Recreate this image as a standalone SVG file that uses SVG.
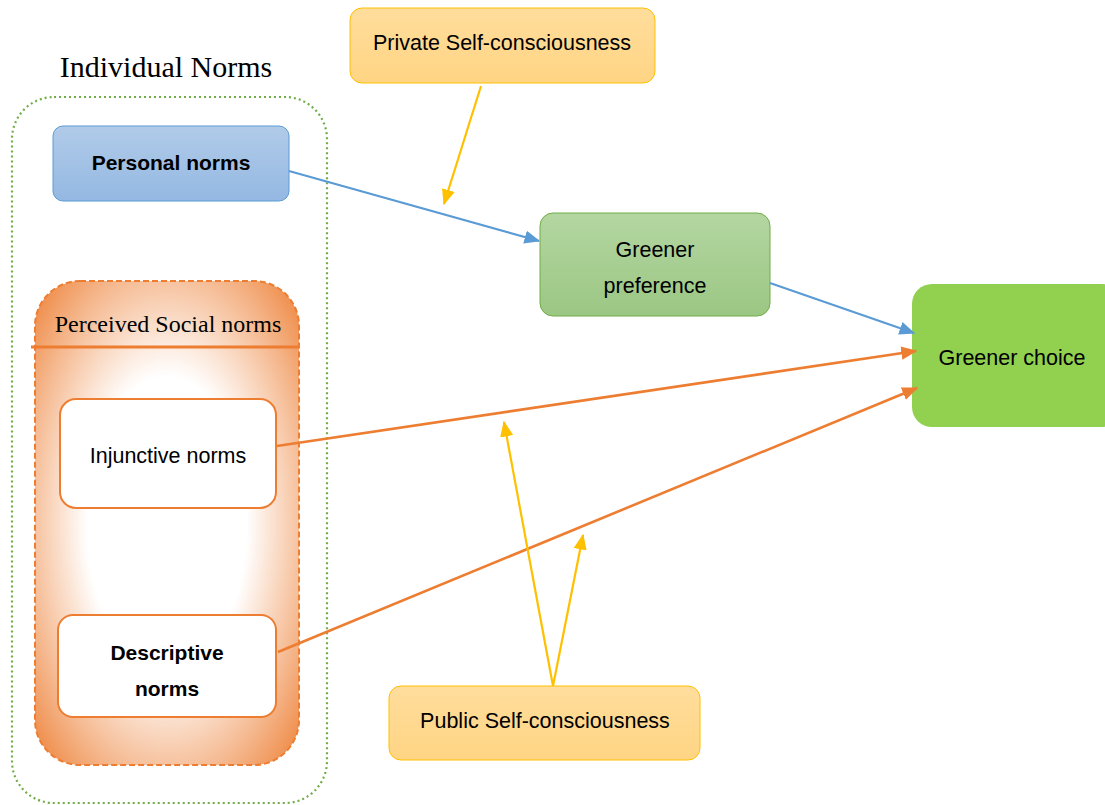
<svg xmlns="http://www.w3.org/2000/svg" width="1105" height="805" viewBox="0 0 1105 805">
  <defs>
    <linearGradient id="gBlue" x1="0" y1="0" x2="0" y2="1">
      <stop offset="0" stop-color="#b1cbe9"/>
      <stop offset="1" stop-color="#94b8e2"/>
    </linearGradient>
    <linearGradient id="gYellow" x1="0" y1="0" x2="0" y2="1">
      <stop offset="0" stop-color="#ffdd9c"/>
      <stop offset="1" stop-color="#ffd584"/>
    </linearGradient>
    <linearGradient id="gGreen" x1="0" y1="0" x2="0" y2="1">
      <stop offset="0" stop-color="#b4d6a2"/>
      <stop offset="1" stop-color="#9bc783"/>
    </linearGradient>
    <radialGradient id="gOrange" cx="0.5" cy="0.5" r="0.72">
      <stop offset="0" stop-color="#ffffff"/>
      <stop offset="0.42" stop-color="#ffffff"/>
      <stop offset="0.74" stop-color="#f5b990"/>
      <stop offset="1" stop-color="#ed7d31"/>
    </radialGradient>
    <marker id="arrBlue" viewBox="0 0 12 10" refX="11" refY="5" markerWidth="7.2" markerHeight="6" orient="auto" markerUnits="strokeWidth">
      <path d="M0,0 L12,5 L0,10 z" fill="#5b9bd5"/>
    </marker>
    <marker id="arrOrange" viewBox="0 0 12 10" refX="11" refY="5" markerWidth="6.2" markerHeight="5.2" orient="auto" markerUnits="strokeWidth">
      <path d="M0,0 L12,5 L0,10 z" fill="#ed7d31"/>
    </marker>
    <marker id="arrYellow" viewBox="0 0 12 10" refX="11" refY="5" markerWidth="7.2" markerHeight="6" orient="auto" markerUnits="strokeWidth">
      <path d="M0,0 L12,5 L0,10 z" fill="#ffc000"/>
    </marker>
  </defs>
  <style>
    .lbl { font-family: "Liberation Sans", Arial, sans-serif; font-size: 21.5px; fill: #000; text-anchor: middle; }
    .bold { font-weight: bold; font-size: 21px; }
    .serif { font-family: "Liberation Serif", "Times New Roman", serif; fill: #000; text-anchor: middle; }
    .blue { stroke: #5b9bd5; stroke-width: 2.2; fill: none; marker-end: url(#arrBlue); }
    .orange { stroke: #ed7d31; stroke-width: 2.6; fill: none; marker-end: url(#arrOrange); }
    .yellow { stroke: #ffc000; stroke-width: 2.2; fill: none; marker-end: url(#arrYellow); }
  </style>

  <rect width="1105" height="805" fill="#ffffff"/>

  <!-- Individual norms container -->
  <g id="individual-norms">
    <text class="serif" x="166" y="77" font-size="30">Individual Norms</text>
    <rect x="12" y="97" width="315" height="706" rx="42" fill="none" stroke="#70ad47" stroke-width="2.2" stroke-dasharray="2 3"/>
  </g>

  <g id="personal-norms">
    <rect x="53" y="126" width="236" height="75" rx="10" fill="url(#gBlue)" stroke="#5b9bd5" stroke-width="1"/>
    <text class="lbl bold" x="171" y="170">Personal norms</text>
  </g>

  <!-- Perceived social norms group -->
  <g id="perceived-social-norms">
    <rect x="35" y="281" width="264" height="484" rx="45" fill="url(#gOrange)" stroke="#ed7d31" stroke-width="2" stroke-dasharray="6 3"/>
    <line x1="31" y1="347" x2="299" y2="347" stroke="#ed7d31" stroke-width="3"/>
    <text class="serif" x="168" y="332" font-size="24">Perceived Social norms</text>
  </g>

  <g id="injunctive-norms">
    <rect x="60" y="399" width="216" height="109" rx="16" fill="#ffffff" stroke="#ed7d31" stroke-width="2"/>
    <text class="lbl" x="168" y="463">Injunctive norms</text>
  </g>

  <g id="descriptive-norms">
    <rect x="58" y="615" width="218" height="102" rx="15" fill="#ffffff" stroke="#ed7d31" stroke-width="2"/>
    <text class="lbl bold" x="167" y="660">Descriptive</text>
    <text class="lbl bold" x="167" y="696">norms</text>
  </g>

  <g id="private-self-consciousness">
    <rect x="350" y="8" width="305" height="75" rx="12" fill="url(#gYellow)" stroke="#ffc000" stroke-width="1"/>
    <text class="lbl" x="502" y="50">Private Self-consciousness</text>
  </g>

  <g id="greener-preference">
    <rect x="540" y="213" width="230" height="103" rx="13" fill="url(#gGreen)" stroke="#70ad47" stroke-width="1"/>
    <text class="lbl" x="655" y="257">Greener</text>
    <text class="lbl" x="655" y="293">preference</text>
  </g>

  <g id="greener-choice">
    <rect x="912" y="284" width="210" height="143" rx="20" fill="#92d050"/>
    <text class="lbl" x="1012" y="365">Greener choice</text>
  </g>

  <g id="public-self-consciousness">
    <rect x="389" y="686" width="311" height="74" rx="12" fill="url(#gYellow)" stroke="#ffc000" stroke-width="1"/>
    <text class="lbl" x="545" y="728">Public Self-consciousness</text>
  </g>

  <!-- Connectors -->
  <g id="connectors">
    <line class="blue" x1="289" y1="171" x2="539" y2="241"/>
    <line class="blue" x1="770" y1="283" x2="914" y2="333"/>
    <line class="yellow" x1="481" y1="86" x2="444" y2="204"/>
    <line class="orange" x1="277" y1="446" x2="916" y2="351"/>
    <line class="orange" x1="278" y1="652" x2="917" y2="388"/>
    <line class="yellow" x1="553" y1="686" x2="504" y2="422"/>
    <line class="yellow" x1="553" y1="686" x2="583" y2="535"/>
  </g>
</svg>
